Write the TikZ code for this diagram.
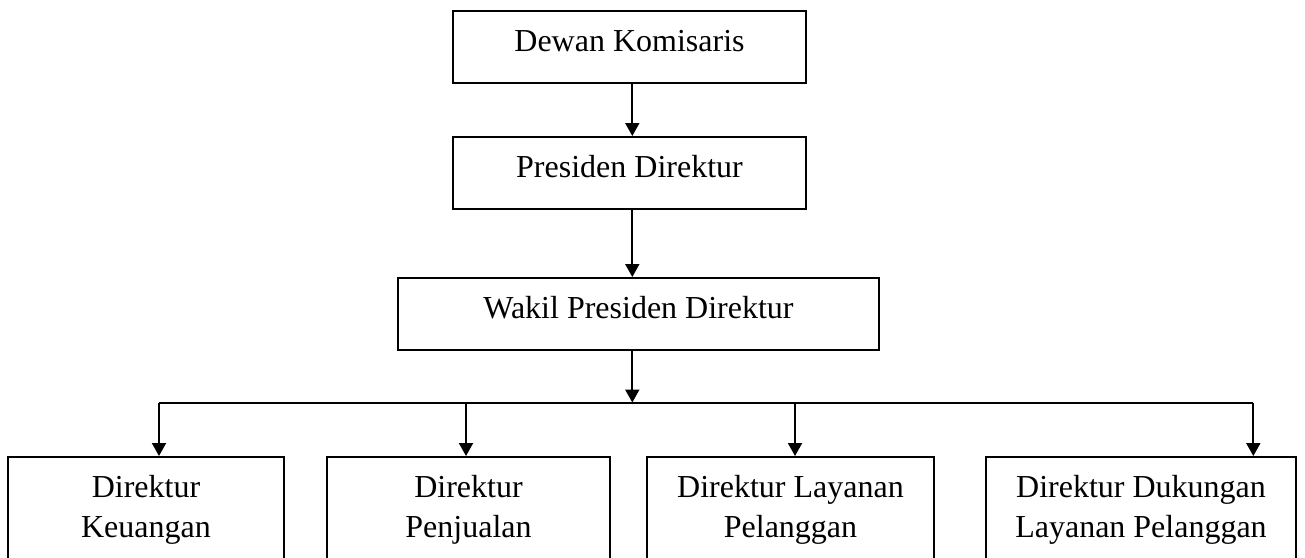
\documentclass[tikz,border=0pt]{standalone}
\usepackage{fontspec}
\setmainfont{Liberation Serif}
\usetikzlibrary{arrows.meta}
\begin{document}
\begin{tikzpicture}[x=1pt,y=-1pt,
  box/.style={draw=black, line width=2pt, rectangle, inner sep=0pt, fill=white},
  sbox/.style={box, text height=40pt, text depth=32pt, font=\fontsize{32}{40.5}\selectfont},
  lbl/.style={inner sep=0pt, align=center, font=\fontsize{32}{40.5}\selectfont},
  arr/.style={line width=2pt, -{Triangle[width=14pt,length=13pt]}},
  ln/.style={line width=2pt}]
\useasboundingbox (0,0) rectangle (1305,557);
\clip (0,0) rectangle (1305,557);
\fill[white] (0,0) rectangle (1305,557);
% top chain
\node[sbox, minimum width=353pt] (dk) at (629.5,47) {Dewan Komisaris};
\node[sbox, minimum width=353pt] (pd) at (629.5,173) {Presiden Direktur};
\node[sbox, minimum width=481pt] (wpd) at (638.5,314) {Wakil Presiden Direktur};
% bottom boxes
\node[box, minimum width=276pt, minimum height=120pt, anchor=north] (b1) at (146,456) {};
\node[box, minimum width=283pt, minimum height=120pt, anchor=north] (b2) at (468.5,456) {};
\node[box, minimum width=287pt, minimum height=120pt, anchor=north] (b3) at (790.5,456) {};
\node[box, minimum width=310pt, minimum height=120pt, anchor=north] (b4) at (1141,456) {};
\node[lbl, anchor=base] (t1) at (146,537.5) {Direktur\\Keuangan};
\node[lbl, anchor=base] (t2) at (468.5,537.5) {Direktur\\Penjualan};
\node[lbl, anchor=base] (t3) at (790.5,537.5) {Direktur Layanan\\Pelanggan};
\node[lbl, anchor=base] (t4) at (1141,537.5) {Direktur Dukungan\\Layanan Pelanggan};
% connectors
\coordinate (sx) at (632.3,0);
\coordinate (bus) at (632.3,402.5);
\coordinate (j1) at (159,402.5);
\coordinate (j2) at (466,402.5);
\coordinate (j3) at (795,402.5);
\coordinate (j4) at (1253.3,402.5);
\draw[arr] (sx |- dk.south) -- (sx |- pd.north);
\draw[arr] (sx |- pd.south) -- (sx |- wpd.north);
\draw[arr] (sx |- wpd.south) -- (bus);
\draw[ln] (j1) -- (j4);
\draw[arr] (j1) -- (j1 |- b1.north);
\draw[arr] (j2) -- (j2 |- b2.north);
\draw[arr] (j3) -- (j3 |- b3.north);
\draw[arr] (j4) -- (j4 |- b4.north);
\end{tikzpicture}
\end{document}
